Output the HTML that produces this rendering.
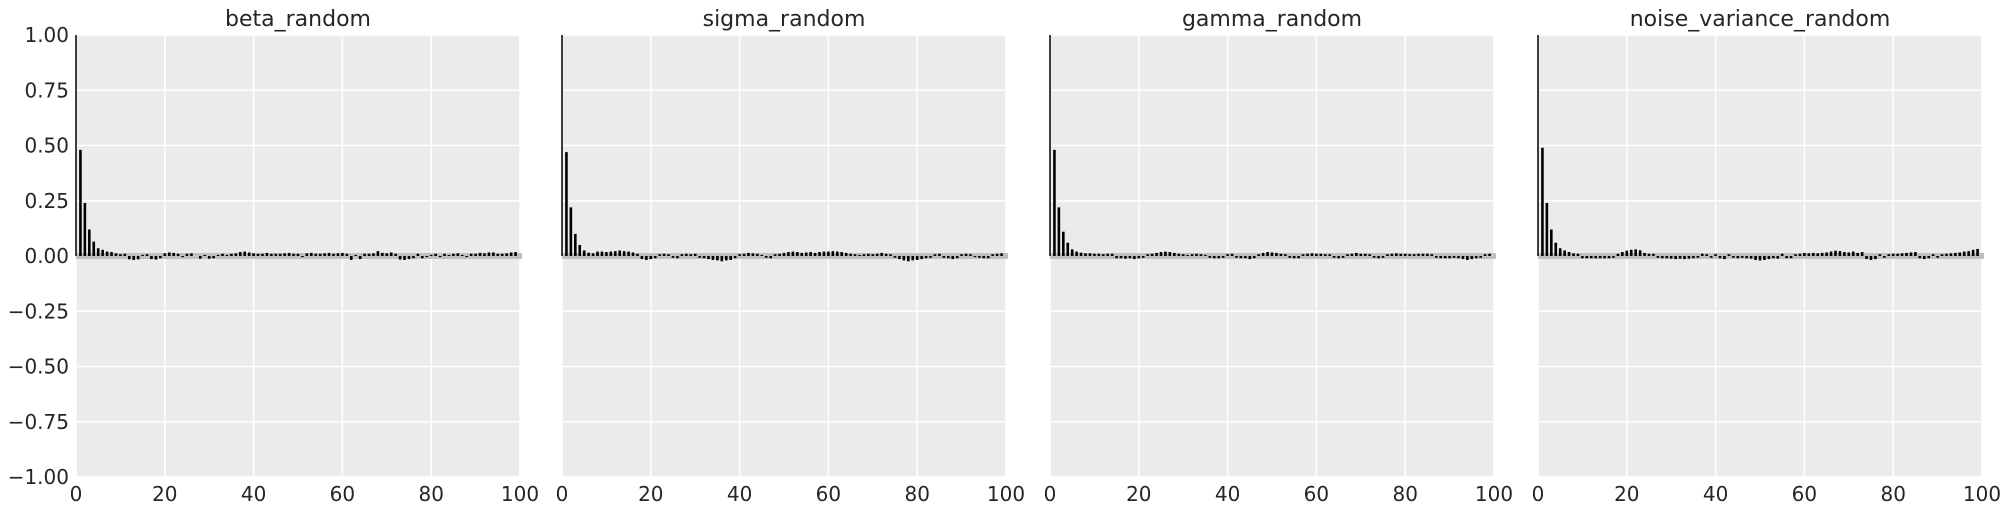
<!DOCTYPE html>
<html><head><meta charset="utf-8"><style>
html,body{margin:0;padding:0;background:#fff;}
svg{display:block;font-family:"DejaVu Sans","Liberation Sans",sans-serif;}
</style></head><body>
<svg id="chart" width="2011" height="511" viewBox="0 0 2011 511"></svg>
<script>
const titles = ["beta_random","sigma_random","gamma_random","noise_variance_random"];
const yTicks = [1,0.75,0.5,0.25,0,-0.25,-0.5,-0.75,-1];
const yTickLabels = ["1.00","0.75","0.50","0.25","0.00","\u22120.25","\u22120.50","\u22120.75","\u22121.00"];
const xTicks = [0,20,40,60,80,100];
const betaHead = [1,0.48,0.24,0.12,0.065,0.035,0.028,0.02,0.018,0.012];
const sigmaHead = [1,0.47,0.22,0.10,0.05,0.025,0.015,0.012,0.02,0.02];
const gammaHead = [1,0.48,0.22,0.11,0.06,0.03,0.02,0.015,0.012,0.012];
const noiseHead = [1,0.49,0.24,0.12,0.06,0.035,0.025,0.018,0.012,0.01];
const betaTail = [0.008,0.01,-0.015,-0.018,-0.015,0.005,0.008,-0.014,-0.016,-0.01,0.012,0.016,0.014,0.01,-0.005,0.01,0.012,0,-0.012,0.005,-0.012,-0.01,0.005,0.01,0.005,0.01,0.012,0.018,0.02,0.016,0.012,0.01,0.01,0.014,0.01,0.01,0.01,0.012,0.014,0.01,0.01,-0.005,0.012,0.014,0.01,0.01,0.012,0.014,0.01,0.012,0.014,0.01,-0.018,0.005,-0.014,0.01,0.01,0.012,0.022,0.014,0.012,0.016,0.01,-0.016,-0.018,-0.014,-0.01,0.01,-0.01,-0.005,0.005,0.01,-0.005,0.01,0.005,0.01,0.012,0.005,-0.005,0.01,0.01,0.014,0.012,0.016,0.016,0.01,0.01,0.012,0.016,0.018];
const sigmaTail = [0.018,0.02,0.022,0.025,0.022,0.02,0.016,0.01,-0.014,-0.018,-0.014,-0.01,0.008,0.01,0.008,-0.008,-0.01,0.008,0.01,0.008,0.01,-0.008,-0.01,-0.014,-0.018,-0.02,-0.024,-0.02,-0.018,-0.01,0.008,0.01,0.014,0.012,0.01,0.005,-0.008,-0.01,0.008,0.01,0.014,0.018,0.02,0.018,0.014,0.016,0.018,0.014,0.018,0.02,0.02,0.022,0.02,0.018,0.014,0.01,0.008,0.005,0.008,0.01,0.008,0.01,0.014,0.01,0.008,-0.008,-0.014,-0.02,-0.024,-0.02,-0.018,-0.014,-0.01,-0.008,0.008,0.01,-0.008,-0.01,-0.014,-0.01,0.008,0.01,0.008,-0.005,-0.008,-0.01,-0.01,0.008,0.01,0.012];
const gammaTail = [0.01,0.01,0.008,0.01,0.01,-0.01,-0.01,-0.012,-0.01,-0.014,-0.01,-0.008,0.008,0.01,0.014,0.018,0.02,0.018,0.014,0.01,0.008,0.005,0.008,0.01,0.008,0.005,-0.008,-0.01,-0.01,-0.008,0.008,0.01,-0.008,-0.01,-0.01,-0.014,-0.01,0.008,0.014,0.018,0.016,0.014,0.01,0.008,-0.008,-0.01,-0.01,0.008,0.01,0.012,0.01,0.01,0.008,0.008,-0.008,-0.01,-0.008,0.008,0.01,0.014,0.01,0.01,0.008,-0.008,-0.01,-0.008,0.008,0.01,0.012,0.01,0.01,0.008,0.008,0.01,0.01,0.01,0.008,-0.008,-0.01,-0.01,-0.01,-0.008,-0.01,-0.014,-0.018,-0.014,-0.01,-0.008,0.008,0.01];
const noiseTail = [-0.01,-0.01,-0.01,-0.01,-0.01,-0.01,-0.01,-0.008,0.01,0.018,0.024,0.028,0.03,0.026,0.014,0.01,0.01,-0.008,-0.01,-0.01,-0.012,-0.014,-0.012,-0.014,-0.012,-0.01,-0.008,0.01,0.008,-0.008,0.008,-0.01,-0.014,0.008,-0.008,-0.01,-0.008,-0.01,-0.012,-0.018,-0.02,-0.018,-0.014,-0.01,-0.012,0.01,-0.01,-0.01,0.008,0.01,0.014,0.012,0.014,0.012,0.014,0.016,0.02,0.024,0.022,0.018,0.016,0.02,0.014,0.018,-0.014,-0.018,-0.014,0.008,-0.008,0.008,0.01,0.01,0.012,0.014,0.016,0.018,-0.01,-0.014,-0.01,0.008,-0.008,0.008,0.01,0.012,0.014,0.016,0.02,0.022,0.028,0.032];
const series = [betaHead.concat(betaTail), sigmaHead.concat(sigmaTail), gammaHead.concat(gammaTail), noiseHead.concat(noiseTail)];

const NS="http://www.w3.org/2000/svg";
const svgEl=document.getElementById('chart');
const panelX=[76,562,1050,1538], panelW=444, plotTop=35, plotBottom=477;
function mk(tag,attrs,parent){const e=document.createElementNS(NS,tag);for(const k in attrs)e.setAttribute(k,attrs[k]);(parent||svgEl).appendChild(e);return e;}
function yScale(v){return plotTop+(1-v)/2*(plotBottom-plotTop);}
series.forEach((vals,p)=>{
  const x0=panelX[p];
  const xScale=v=>x0+v/100*panelW;
  const g=mk('g',{});
  
  
  const bg=mk('rect',{x:x0,y:plotTop,width:panelW,height:plotBottom-plotTop,fill:'#ebebeb'},g);
  
  
  yTicks.forEach((t,i)=>{
    const gl=mk('line',{x1:x0,x2:x0+panelW,y1:yScale(t),y2:yScale(t),stroke:'#fff','stroke-width':1.5},g);
    
    
    if(p===0){
      const tl=mk('text',{x:x0-7,y:yScale(t)+7,'text-anchor':'end','font-size':20,fill:'#262626'},g);
      tl.textContent=yTickLabels[i];
      
      
    }
  });
  xTicks.forEach(t=>{
    const gl=mk('line',{x1:xScale(t),x2:xScale(t),y1:plotTop,y2:plotBottom,stroke:'#fff','stroke-width':1.5},g);
    
    
    const tl=mk('text',{x:xScale(t),y:plotBottom+24,'text-anchor':'middle','font-size':20,fill:'#262626'},g);
    tl.textContent=String(t);
    
    
  });
  const band=mk('rect',{x:x0,y:253,width:panelW+2,height:6,fill:'#c0c0c0'},g);
  
  
  vals.forEach((v,i)=>{
    const b=mk('line',{x1:xScale(i),x2:xScale(i),y1:yScale(0),y2:yScale(v),stroke:'#000','stroke-width':i===0?1.5:2.6},g);
    
    
  });
  const tt=mk('text',{x:x0+panelW/2,y:26,'text-anchor':'middle','font-size':22,fill:'#262626'},g);
  tt.textContent=titles[p];
  
  
});
</script>
</body></html>
